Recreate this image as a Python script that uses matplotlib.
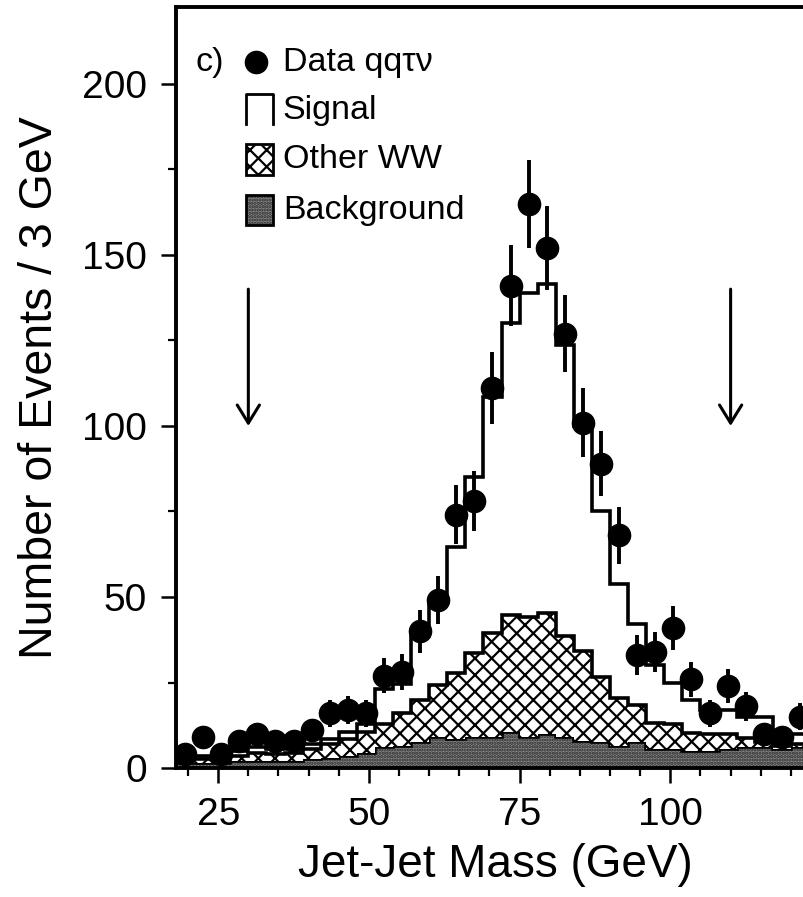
import numpy as np
import matplotlib.pyplot as plt
from matplotlib.patches import Rectangle
from matplotlib.lines import Line2D
from matplotlib.ticker import MultipleLocator

plt.rcParams['font.family'] = ['Liberation Sans', 'DejaVu Sans']
plt.rcParams['hatch.linewidth'] = 1.6

# 3 GeV bins from 18 to 123 GeV
edges = np.arange(18, 124, 3)
centers = edges[:-1] + 1.5

data = [4, 9, 4, 8, 10, 8, 8, 11, 16, 17, 16, 27, 28, 40, 49, 74, 78, 111,
        141, 165, 152, 127, 101, 89, 68, 33, 34, 41, 26, 16, 24, 18, 10, 9, 15]

background = [1.5, 1.5, 1.5, 2, 2, 2, 2, 2.5, 3, 3.5, 4.5, 6, 6.5, 7.5, 9, 8.5, 9,
              9, 10.5, 9, 10, 9, 8, 7.5, 6.5, 7.5, 5.5, 5.5, 5, 5, 5.5, 6, 6, 5.5, 6]
other_ww = [1, 1, 1, 1.5, 2.5, 2, 2.5, 3, 4, 5, 6, 7, 9.5, 12.5, 15.3, 19.2, 24.5,
            30.6, 34.2, 35.2, 35.4, 29.6, 26.3, 19.2, 13.9, 10.9, 7.7, 7.3, 5.1,
            5, 4.5, 2.7, 1.5, 1, 1]
signal = [1, 1, 1.5, 1.5, 1.5, 1.5, 1, 1.5, 1.5, 2, 2.5, 10, 8.5, 18.5, 24.3, 37,
          51.7, 69, 85.3, 94.8, 96, 85.1, 65.7, 48.5, 33.4, 23.6, 16.8, 12.2, 9.9,
          7, 7, 6.3, 7.5, 1.2, 3]

cut_lo, cut_hi = 30, 110

bkg = np.array(background)
ww_top = bkg + np.array(other_ww)
total = ww_top + np.array(signal)

fig = plt.figure(figsize=(8.04, 8.97), dpi=100)
ax = fig.add_axes([0.2189, 0.1438, 0.7948, 0.8484])

lw = 2.6
stip_face, stip_dots = '#858585', '#2a2a2a'
# background: stippled grey
ax.stairs(bkg, edges, baseline=0, fill=True, facecolor=stip_face,
          edgecolor=stip_dots, hatch='.....', lw=0)
ax.stairs(bkg, edges, baseline=0, color='black', lw=lw)
# other WW: cross-hatched
ax.stairs(ww_top, edges, baseline=bkg, fill=True, facecolor='white',
          edgecolor='black', hatch='xx', lw=0)
ax.stairs(ww_top, edges, baseline=0, color='black', lw=lw)
# signal on top
ax.stairs(total, edges, baseline=0, color='black', lw=lw)

ax.errorbar(centers, data, yerr=np.sqrt(data), fmt='o', color='black',
            ms=16, elinewidth=2.8, capsize=0, zorder=5)

for xc in (cut_lo, cut_hi):
    ax.annotate('', xy=(xc, 100), xytext=(xc, 140),
                arrowprops=dict(arrowstyle='->, head_length=0.65, head_width=0.4',
                                lw=2.2, color='black', shrinkA=0, shrinkB=0,
                                mutation_scale=20))

ax.set_xlim(18, 124)
ax.set_ylim(0, 222.5)
ax.xaxis.set_major_locator(MultipleLocator(25))
ax.xaxis.set_minor_locator(MultipleLocator(5))
ax.yaxis.set_major_locator(MultipleLocator(50))
ax.yaxis.set_minor_locator(MultipleLocator(25))
ax.tick_params(which='major', direction='out', length=11, width=1.8,
               labelsize=28, pad=10)
ax.tick_params(which='minor', direction='out', length=6, width=1.6)
for s in ax.spines.values():
    s.set_linewidth(2.8)
ax.spines['right'].set_visible(False)

ax.set_xlabel('Jet-Jet Mass (GeV)', fontsize=33, labelpad=7)
ax.set_ylabel('Number of Events / 3 GeV', fontsize=33.5, labelpad=14)

# legend
tr = ax.transAxes
fs = 24.5
ax.text(0.031, 0.9277, 'c)', transform=tr, fontsize=fs, va='center')
ax.plot([0.1252], [0.9277], 'o', color='black', ms=16, transform=tr, clip_on=False)
ax.text(0.1674, 0.9277, 'Data qq\u03c4\u03bd', transform=tr, fontsize=fs, va='center')

bx0, bx1 = 0.1095, 0.1518
ax.add_line(Line2D([bx0, bx0, bx1, bx1], [0.8463, 0.8857, 0.8857, 0.8463],
                   color='black', lw=2, transform=tr))
ax.text(0.1674, 0.8646, 'Signal', transform=tr, fontsize=fs, va='center')

ax.add_patch(Rectangle((bx0, 0.7792), bx1 - bx0, 0.0408, transform=tr,
                       facecolor='white', edgecolor='black', hatch='xx', lw=2))
ax.text(0.1674, 0.799, 'Other WW', transform=tr, fontsize=fs, va='center')

ax.add_patch(Rectangle((bx0, 0.7135), bx1 - bx0, 0.0395, transform=tr,
                       facecolor=stip_face, edgecolor=stip_dots, hatch='.....', lw=0))
ax.add_patch(Rectangle((bx0, 0.7135), bx1 - bx0, 0.0395, transform=tr,
                       fill=False, edgecolor='black', lw=2))
ax.text(0.1674, 0.7332, 'Background', transform=tr, fontsize=fs, va='center')

fig.savefig('out.png', dpi=100)
